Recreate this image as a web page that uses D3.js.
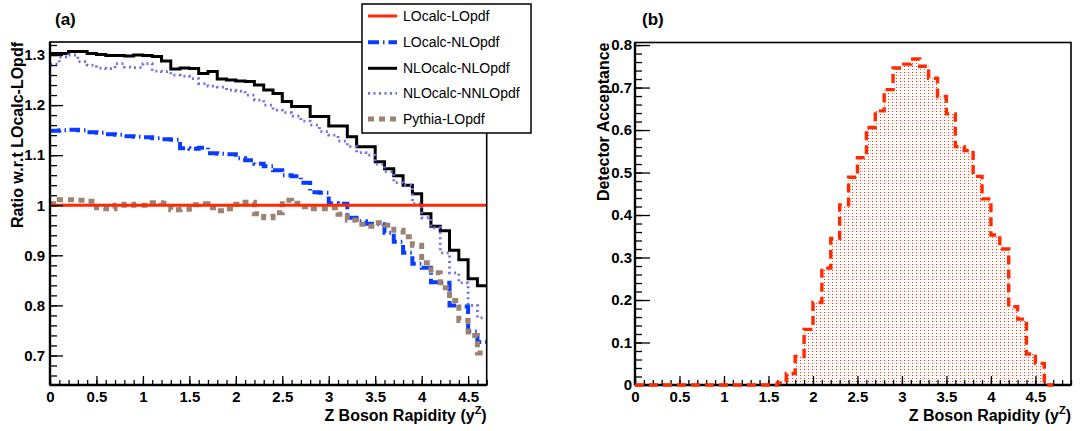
<!DOCTYPE html>
<html><head><meta charset="utf-8">
<script src="https://cdn.jsdelivr.net/npm/d3@7/dist/d3.min.js"></script>
<style>
body{margin:0;background:#fff;}
text{font-family:"Liberation Sans",Arial,Helvetica,sans-serif;}
</style>
</head><body>
<svg id="c" width="1090" height="431"></svg>
<script>
// ---------------- data ----------------
const rapidityEdges = [0,0.1,0.2,0.3,0.4,0.5,0.6,0.7,0.8,0.9,1.0,1.1,1.2,1.3,1.4,1.5,1.6,1.7,1.8,1.9,2.0,2.1,2.2,2.3,2.4,2.5,2.6,2.7,2.8,2.9,3.0,3.1,3.2,3.3,3.4,3.5,3.6,3.7,3.8,3.9,4.0,4.1,4.2,4.3,4.4,4.5,4.6,4.7];

const loCalcLoPdf = [1,1,1,1,1,1,1,1,1,1,1,1,1,1,1,1,1,1,1,1,1,1,1,1,1,1,1,1,1,1,1,1,1,1,1,1,1,1,1,1,1,1,1,1,1,1,1];

const loCalcNloPdf = [1.149,1.150,1.151,1.150,1.146,1.145,1.142,1.141,1.138,1.137,1.136,1.134,1.132,1.131,1.114,1.113,1.115,1.104,1.103,1.102,1.094,1.090,1.083,1.078,1.070,1.060,1.058,1.045,1.026,1.025,1.004,1.003,0.975,0.968,0.963,0.962,0.945,0.927,0.905,0.883,0.875,0.846,0.845,0.800,0.798,0.748,0.727];

const nloCalcNloPdf = [1.303,1.303,1.307,1.307,1.303,1.301,1.299,1.299,1.298,1.300,1.299,1.297,1.288,1.272,1.274,1.273,1.263,1.267,1.252,1.250,1.248,1.247,1.240,1.230,1.223,1.207,1.197,1.197,1.177,1.177,1.158,1.158,1.137,1.117,1.117,1.087,1.073,1.059,1.040,1.023,0.983,0.958,0.949,0.910,0.891,0.853,0.839];

const nloCalcNnloPdf = [1.282,1.296,1.300,1.287,1.280,1.274,1.273,1.283,1.276,1.275,1.283,1.268,1.267,1.260,1.258,1.253,1.243,1.238,1.236,1.230,1.228,1.220,1.210,1.200,1.190,1.185,1.178,1.168,1.160,1.147,1.140,1.128,1.117,1.105,1.100,1.082,1.067,1.045,1.040,1.003,0.975,0.955,0.905,0.865,0.845,0.800,0.775];

const pythiaLoPdf = [1.003,1.011,1.011,1.010,1.008,0.995,0.993,1.000,1.002,1.000,1.000,1.005,1.004,0.991,0.992,1.001,1.003,0.995,0.989,0.993,1.002,1.006,0.983,0.975,0.985,1.010,1.004,0.997,0.993,0.993,0.995,0.982,0.970,0.962,0.958,0.965,0.960,0.950,0.937,0.920,0.885,0.865,0.835,0.810,0.770,0.740,0.705];

const acceptance = [0,0,0,0,0,0,0,0,0,0,0,0,0,0,0,0,0.005,0.027,0.067,0.131,0.194,0.275,0.345,0.424,0.489,0.535,0.606,0.645,0.695,0.746,0.755,0.767,0.750,0.722,0.679,0.638,0.561,0.552,0.491,0.438,0.353,0.320,0.184,0.155,0.073,0.051,0];

const ratioTicks = [0.7,0.8,0.9,1,1.1,1.2,1.3];
const ratioTickLabels = ["0.7","0.8","0.9","1","1.1","1.2","1.3"];
const ratioMinorTicks = [0.66,0.68,0.7,0.72,0.74,0.76,0.78,0.8,0.82,0.84,0.86,0.88,0.9,0.92,0.94,0.96,0.98,1,1.02,1.04,1.06,1.08,1.1,1.12,1.14,1.16,1.18,1.2,1.22,1.24,1.26,1.28,1.3,1.32];
const accTicks = [0,0.1,0.2,0.3,0.4,0.5,0.6,0.7,0.8];
const accTickLabels = ["0","0.1","0.2","0.3","0.4","0.5","0.6","0.7","0.8"];
const accMinorTicks = [0,0.02,0.04,0.06,0.08,0.1,0.12,0.14,0.16,0.18,0.2,0.22,0.24,0.26,0.28,0.3,0.32,0.34,0.36,0.38,0.4,0.42,0.44,0.46,0.48,0.5,0.52,0.54,0.56,0.58,0.6,0.62,0.64,0.66,0.68,0.7,0.72,0.74,0.76,0.78,0.8];
const rapidityTicks = [0,0.5,1,1.5,2,2.5,3,3.5,4,4.5];
const rapidityTickLabels = ["0","0.5","1","1.5","2","2.5","3","3.5","4","4.5"];
const rapidityMinorTicksA = rapidityEdges;
const rapidityMinorTicksB = rapidityEdges.concat([4.8,4.9]);

const seriesNames = ["LOcalc-LOpdf","LOcalc-NLOpdf","NLOcalc-NLOpdf","NLOcalc-NNLOpdf","Pythia-LOpdf"];
const panelLabels = ["(a)","(b)"];
const yTitles = ["Ratio w.r.t LOcalc-LOpdf","Detector Acceptance"];
const xTitleMain = "Z Boson Rapidity (y";
const xTitleSup = "Z";

// ---------------- styles ----------------
const styles = [
  {color:"#ff2a00", width:3,   dash:null},
  {color:"#0a3cff", width:4,   dash:"11,4,1.5,4"},
  {color:"#000000", width:3,   dash:null},
  {color:"#6f6fe8", width:2.8, dash:"2,3.5"},
  {color:"#9c8270", width:5,   dash:"6,5"}
];
const seriesData = [loCalcLoPdf, loCalcNloPdf, nloCalcNloPdf, nloCalcNnloPdf, pythiaLoPdf];

const svg = d3.select("#c");
svg.append("rect").attr("width",1090).attr("height",431).attr("fill","#fff");

const defs = svg.append("defs");
const pat = defs.append("pattern").attr("id","dots").attr("patternUnits","userSpaceOnUse")
  .attr("width",4).attr("height",3);
pat.append("rect").attr("x",0).attr("y",0).attr("width",1).attr("height",1).attr("fill","#ff3a10");
pat.append("rect").attr("x",2).attr("y",0).attr("width",1).attr("height",1).attr("fill","#ffd4ca");

function stepPoints(vals){
  const pts = vals.map((v,i)=>[rapidityEdges[i], v]);
  pts.push([rapidityEdges[vals.length], vals[vals.length-1]]);
  return pts;
}

// ---------------- Panel A ----------------
const A = {l:50, r:486.7, t:42, b:385};
const xA = d3.scaleLinear().domain([0,4.7]).range([A.l, A.r]);
const yA = d3.scaleLinear().domain([0.641,1.326]).range([A.b, A.t]);

defs.append("clipPath").attr("id","clipA").append("rect")
  .attr("x",A.l).attr("y",A.t).attr("width",A.r-A.l).attr("height",A.b-A.t);

const gA = svg.append("g");
const lineA = d3.line().x(d=>xA(d[0])).y(d=>yA(d[1])).curve(d3.curveStepAfter);
const gLinesA = gA.append("g").attr("clip-path","url(#clipA)");
[2,3,1,4,0].forEach(i=>{
  const s = styles[i];
  gLinesA.append("path").datum(stepPoints(seriesData[i]))
    .attr("d", lineA).attr("fill","none").attr("stroke",s.color)
    .attr("stroke-width",s.width).attr("stroke-dasharray",s.dash)
    .attr("stroke-linejoin","miter");
});

function styleAxis(g){
  g.select(".domain").remove();
  g.selectAll("line").attr("stroke","#000").attr("stroke-width",1.3);
  g.selectAll("text").attr("font-weight","bold").attr("font-size",15).attr("fill","#000")
    .attr("font-family",'"Liberation Sans",Arial,sans-serif');
}
gA.append("g").attr("transform",`translate(${A.l},0)`)
  .call(d3.axisLeft(yA).tickValues(ratioMinorTicks).tickSize(-7).tickFormat(""))
  .call(styleAxis);
gA.append("g").attr("transform",`translate(${A.l},0)`)
  .call(d3.axisLeft(yA).tickValues(ratioTicks).tickSize(-13).tickPadding(5)
        .tickFormat((d,i)=>ratioTickLabels[i]))
  .call(styleAxis);
gA.append("g").attr("transform",`translate(0,${A.b})`)
  .call(d3.axisBottom(xA).tickValues(rapidityMinorTicksA).tickSize(-5).tickFormat(""))
  .call(styleAxis);
gA.append("g").attr("transform",`translate(0,${A.b})`)
  .call(d3.axisBottom(xA).tickValues(rapidityTicks).tickSize(-9).tickPadding(6)
        .tickFormat((d,i)=>rapidityTickLabels[i]))
  .call(styleAxis);

gA.append("rect").attr("x",A.l).attr("y",A.t).attr("width",A.r-A.l).attr("height",A.b-A.t)
  .attr("fill","none").attr("stroke","#000").attr("stroke-width",1.6);
gA.append("line").attr("x1",A.l).attr("x2",A.r).attr("y1",A.b).attr("y2",A.b)
  .attr("stroke","#000").attr("stroke-width",2.4);
gA.append("line").attr("x1",A.l).attr("x2",A.l).attr("y1",A.t).attr("y2",A.b)
  .attr("stroke","#000").attr("stroke-width",2.4);

svg.append("text").attr("x",55).attr("y",25).attr("font-size",17).attr("font-weight","bold").text(panelLabels[0]);
svg.append("text").attr("transform",`translate(23,${A.t}) rotate(-90)`).attr("text-anchor","end")
  .attr("font-size",16).attr("font-weight","bold").text(yTitles[0]);
function xTitle(xr){
  const t = svg.append("text").attr("x",xr).attr("y",421).attr("text-anchor","end")
    .attr("font-size",16).attr("font-weight","bold");
  t.append("tspan").text(xTitleMain);
  t.append("tspan").attr("dy",-7).attr("font-size",11).text(xTitleSup);
  t.append("tspan").attr("dy",7).text(")");
}
xTitle(A.r);

// legend
const L = {x:362, y:4, w:169, h:129};
const gL = svg.append("g");
gL.append("rect").attr("x",L.x).attr("y",L.y).attr("width",L.w).attr("height",L.h)
  .attr("fill","#fff").attr("stroke","#000").attr("stroke-width",1.5);
const legendY = [16,42.3,68.3,93.3,119];
seriesNames.forEach((name,i)=>{
  const s = styles[i];
  gL.append("line").attr("x1",368).attr("x2",397).attr("y1",legendY[i]).attr("y2",legendY[i])
    .attr("stroke",s.color).attr("stroke-width",s.width).attr("stroke-dasharray",s.dash);
  gL.append("text").attr("x",403).attr("y",legendY[i]+5).attr("font-size",14).text(name);
});

// ---------------- Panel B ----------------
const B = {l:635, r:1071, t:42.5, b:385};
const xB = d3.scaleLinear().domain([0,4.9]).range([B.l, B.r]);
const yB = d3.scaleLinear().domain([0,0.806]).range([B.b, B.t]);
const gB = svg.append("g");

const areaB = d3.area().x(d=>xB(d[0])).y0(yB(0)).y1(d=>yB(d[1])).curve(d3.curveStepAfter);
gB.append("path").datum(stepPoints(acceptance)).attr("d",areaB).attr("fill","url(#dots)");

gB.append("g").attr("transform",`translate(${B.l},0)`)
  .call(d3.axisLeft(yB).tickValues(accMinorTicks).tickSize(-7).tickFormat(""))
  .call(styleAxis);
gB.append("g").attr("transform",`translate(${B.l},0)`)
  .call(d3.axisLeft(yB).tickValues(accTicks).tickSize(-15).tickPadding(3)
        .tickFormat((d,i)=>accTickLabels[i]))
  .call(styleAxis);
gB.append("g").attr("transform",`translate(0,${B.b})`)
  .call(d3.axisBottom(xB).tickValues(rapidityMinorTicksB).tickSize(-5).tickFormat(""))
  .call(styleAxis);
gB.append("g").attr("transform",`translate(0,${B.b})`)
  .call(d3.axisBottom(xB).tickValues(rapidityTicks).tickSize(-9).tickPadding(6)
        .tickFormat((d,i)=>rapidityTickLabels[i]))
  .call(styleAxis);

gB.append("rect").attr("x",B.l).attr("y",B.t).attr("width",B.r-B.l).attr("height",B.b-B.t)
  .attr("fill","none").attr("stroke","#000").attr("stroke-width",1.6);
gB.append("line").attr("x1",B.l).attr("x2",B.r).attr("y1",B.b).attr("y2",B.b)
  .attr("stroke","#000").attr("stroke-width",2.4);
gB.append("line").attr("x1",B.l).attr("x2",B.l).attr("y1",B.t).attr("y2",B.b)
  .attr("stroke","#000").attr("stroke-width",2.4);

const lineB = d3.line().x(d=>xB(d[0])).y(d=>yB(d[1])).curve(d3.curveStepAfter);
gB.append("path").datum(stepPoints(acceptance)).attr("d",lineB).attr("fill","none")
  .attr("stroke","#ff2a00").attr("stroke-width",3.4).attr("stroke-dasharray","9,5");

svg.append("text").attr("x",642).attr("y",25).attr("font-size",17).attr("font-weight","bold").text(panelLabels[1]);
svg.append("text").attr("transform",`translate(609,${B.t}) rotate(-90)`).attr("text-anchor","end")
  .attr("font-size",16).attr("font-weight","bold").text(yTitles[1]);
xTitle(B.r);
</script>
</body></html>
